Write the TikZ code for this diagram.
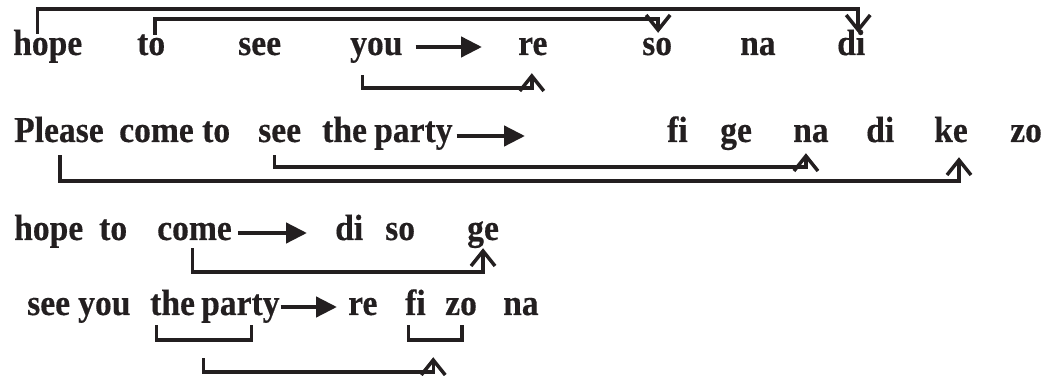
\documentclass[tikz,border=0pt]{standalone}
\usepackage{fontspec}
\setmainfont{Liberation Serif}
\newfontfamily\wordfont{Liberation Serif Bold}[FakeStretch=0.92, FakeBold=0.4]
\usepackage{tikz}
\usetikzlibrary{arrows.meta, calc}
\definecolor{ink}{RGB}{35, 31, 32}
\tikzset{
  word/.style={anchor=base west, inner sep=0pt, text height=24pt, text depth=8pt, text=ink, font=\wordfont\fontsize{36.5}{40}\selectfont},
  link/.style={draw=ink, line width=3.5pt},
  barb/.style={link, -{Straight Barb[length=15pt,width=24pt]}},
  fat/.style={draw=ink, line width=4.5pt, -{Triangle[length=21pt,width=20pt]}}
}

\begin{document}
\begin{tikzpicture}[x=1pt, y=1pt]
                \useasboundingbox (0,0) rectangle (1044,375);
                % Row 1
                \node[word] (a-hope) at (13,320) {hope};
                \node[word] (a-to) at (137,320) {to};
                \node[word] (a-see) at (238,320) {see};
                \node[word] (a-you) at (350,320) {you};
                \node[word] (a-re) at (518,320) {re};
                \node[word] (a-so) at (642,320) {so};
                \node[word] (a-na) at (740,320) {na};
                \node[word] (a-di) at (837,320) {di};
                \draw[fat] ([xshift=13pt,yshift=8pt]a-you.base east) -- ([xshift=-36pt,yshift=8pt]a-re.base west);
                \draw[barb] ([xshift=-10pt,yshift=-3pt]a-hope.north) -- ++(0,25) -| ([xshift=7pt,yshift=-2pt]a-di.north);
                \draw[barb] ([xshift=4pt,yshift=-4pt]a-to.north) -- ++(0,16) -| ([xshift=1pt,yshift=-2pt]a-so.north);
                \draw[barb] ([xshift=-14pt,yshift=-12pt]a-you.south) -- ++(0,-13) -| ([xshift=-1pt,yshift=-10pt]a-re.south);
                % Row 2
                \node[word] (b-please) at (14,233) {Please};
                \node[word] (b-come) at (119,233) {come};
                \node[word] (b-to) at (202,233) {to};
                \node[word] (b-see) at (258,233) {see};
                \node[word] (b-the) at (322,233) {the};
                \node[word] (b-party) at (374,233) {party};
                \node[word] (b-fi) at (667,233) {fi};
                \node[word] (b-ge) at (720,233) {ge};
                \node[word] (b-na) at (793,233) {na};
                \node[word] (b-di) at (866,233) {di};
                \node[word] (b-ke) at (934,233) {ke};
                \node[word] (b-zo) at (1010,233) {zo};
                \draw[fat] ([xshift=4pt,yshift=6pt]b-party.base east) -- ([xshift=-142pt,yshift=6pt]b-fi.base west);
                \draw[barb] ([xshift=1pt,yshift=-5pt]b-please.south) -- ++(0,-26) -| ([xshift=8pt,yshift=-7pt]b-ke.south);
                \draw[barb] ([xshift=-5pt,yshift=-5pt]b-see.south) -- ++(0,-12) -| ([xshift=-5pt,yshift=-3pt]b-na.south);
                % Row 3
                \node[word] (c-hope) at (14,135) {hope};
                \node[word] (c-to) at (99,135) {to};
                \node[word] (c-come) at (157,135) {come};
                \node[word] (c-di) at (335,135) {di};
                \node[word] (c-so) at (385,135) {so};
                \node[word] (c-ge) at (467,135) {ge};
                \draw[fat] ([xshift=6pt,yshift=7pt]c-come.base east) -- ([xshift=-28pt,yshift=7pt]c-di.base west);
                \draw[barb] ([xshift=-2pt]c-come.south) -- ++(0,-24) -| (c-ge.south);
                % Row 4
                \node[word] (d-see) at (27,60) {see};
                \node[word] (d-you) at (78,60) {you};
                \node[word] (d-the) at (150,60) {the};
                \node[word] (d-party) at (201,60) {party};
                \node[word] (d-re) at (348,60) {re};
                \node[word] (d-fi) at (405,60) {fi};
                \node[word] (d-zo) at (445,60) {zo};
                \node[word] (d-na) at (503,60) {na};
                \draw[fat] ([xshift=1pt,yshift=8pt]d-party.base east) -- ([xshift=-11pt,yshift=8pt]d-re.base west);
                \draw[link] ([xshift=-16pt,yshift=-2pt]d-the.south) -- ++(0,-15) -| ([xshift=11pt,yshift=-2pt]d-party.south);
                \draw[link] ([xshift=-7pt,yshift=-2pt]d-fi.south) -- ++(0,-15) -| ([xshift=1pt,yshift=-2pt]d-zo.south);
                \coordinate (d-pair) at ($(d-the.south)!0.5!(d-party.south)+(-3,-17)$);
                \coordinate (d-pair2) at ($(d-fi.south)!0.5!(d-zo.south)+(-5,-17)$);
                \draw[barb] ([yshift=-18pt]d-pair) -- ++(0,-14) -| ([yshift=-17pt]d-pair2);
\end{tikzpicture}
\end{document}
